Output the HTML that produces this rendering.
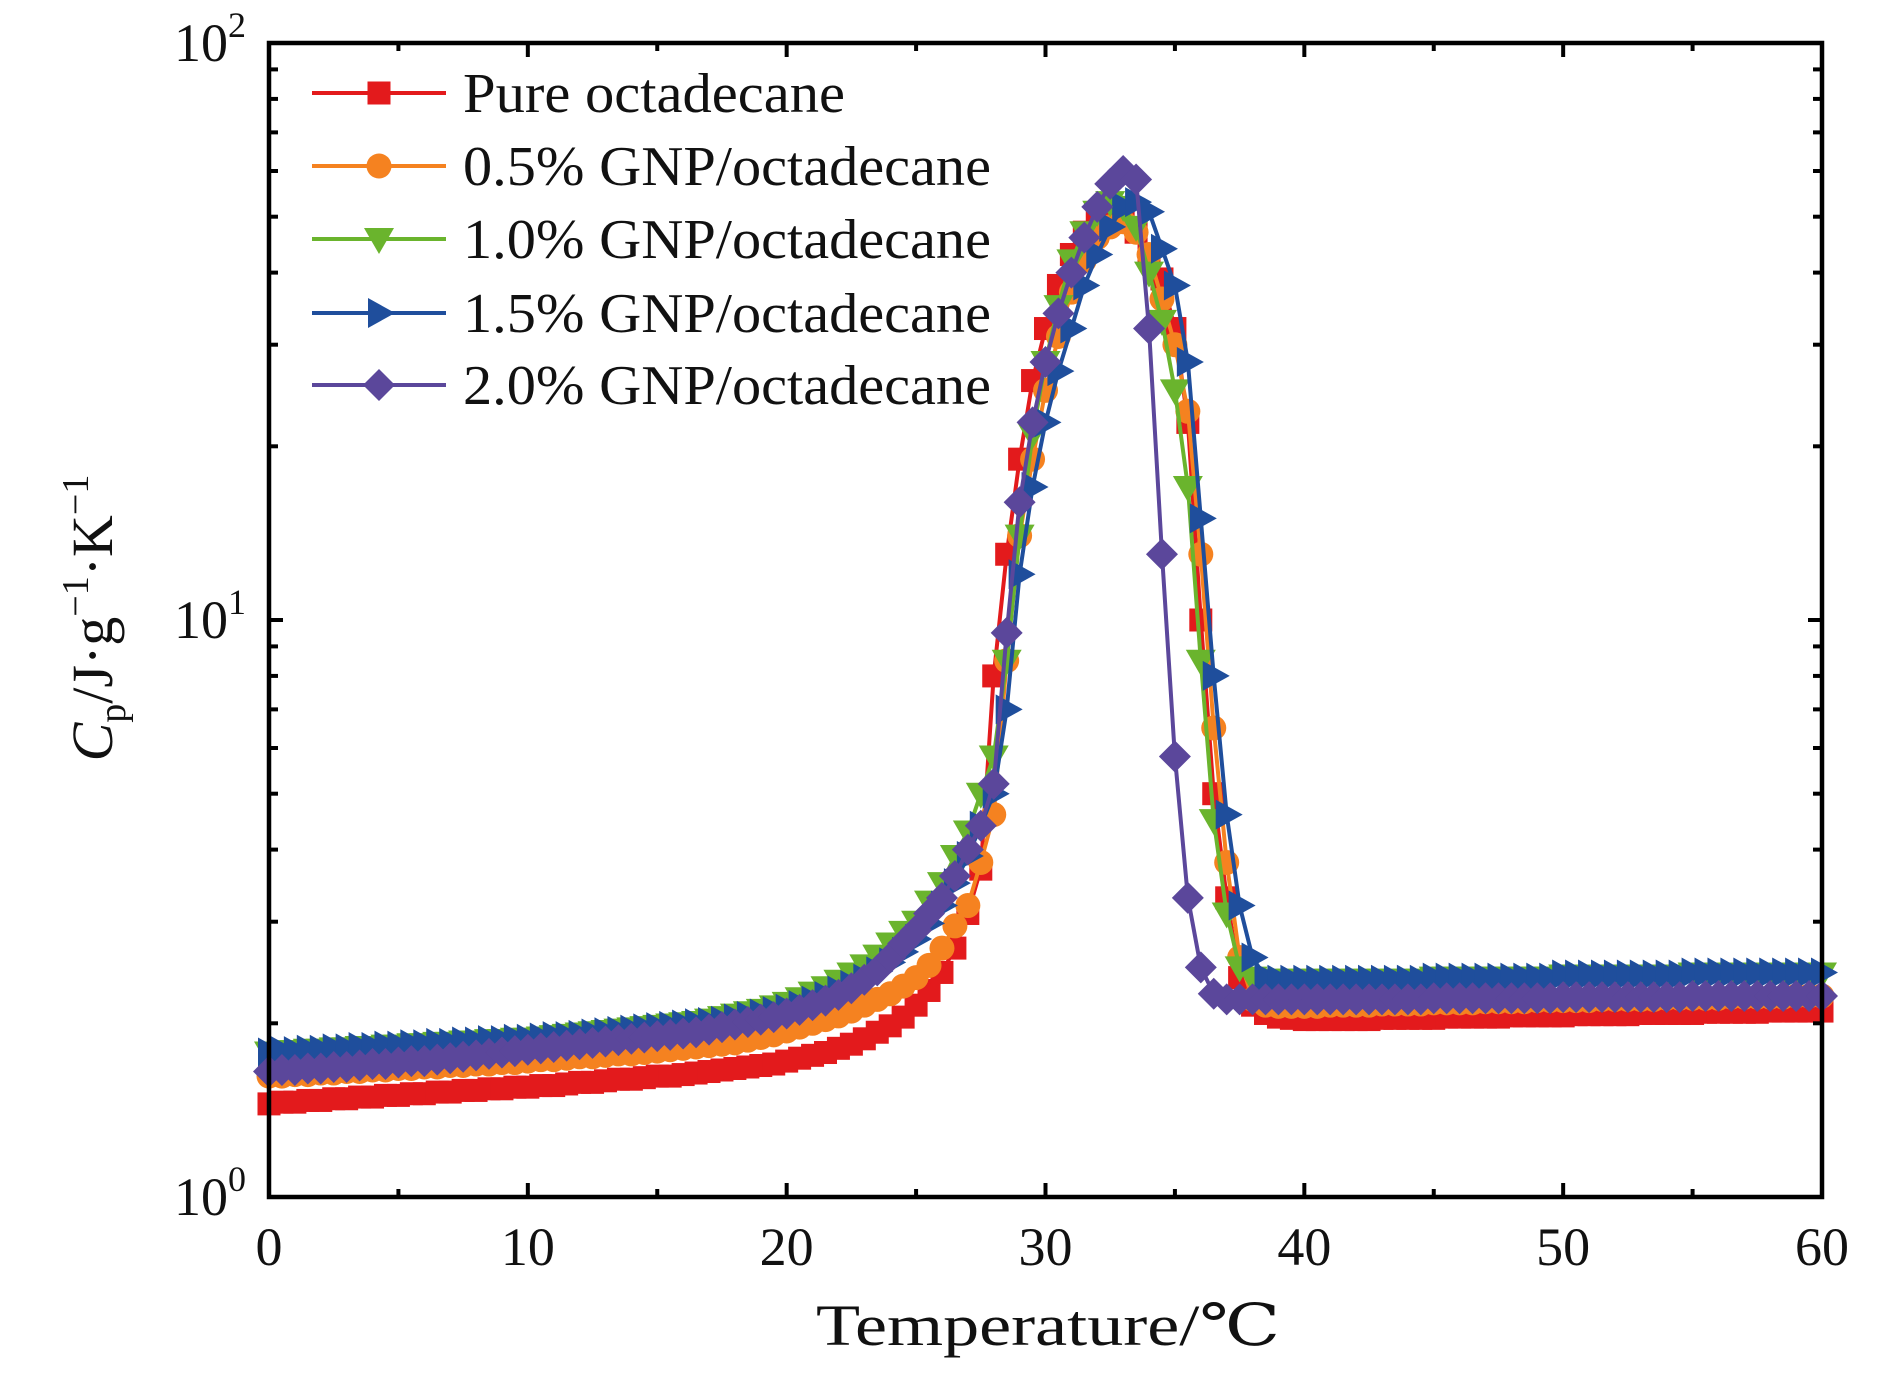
<!DOCTYPE html>
<html><head><meta charset="utf-8">
<style>
html,body{margin:0;padding:0;background:#fff;}
svg text{font-family:"Liberation Serif","DejaVu Serif",serif;fill:#111;}
</style></head>
<body>
<svg id="chart" width="1890" height="1371" viewBox="0 0 1890 1371" xmlns="http://www.w3.org/2000/svg">
<g id="series"></g>
<g id="axes"></g>
<g id="legend"></g>
<text x="1048" y="1345" font-size="58" text-anchor="middle" textLength="464" lengthAdjust="spacingAndGlyphs">Temperature/℃</text>
<g transform="translate(112,618) rotate(-90)">
<text text-anchor="middle" font-size="58"><tspan font-style="italic">C</tspan><tspan font-size="38" dy="13">p</tspan><tspan dy="-13">/J·g</tspan><tspan font-size="38" dy="-24">−1</tspan><tspan dy="24">·K</tspan><tspan font-size="38" dy="-24">−1</tspan></text>
</g>
</svg>
<script>
const temps = [];
for (let i = 0; i <= 120; i++) temps.push(i / 2);
const pure = [1.45,1.46,1.46,1.47,1.47,1.48,1.48,1.49,1.49,1.50,1.50,1.51,1.51,1.52,1.52,1.53,1.53,1.54,1.54,1.55,
1.55,1.56,1.56,1.57,1.58,1.58,1.59,1.60,1.60,1.61,1.62,1.62,1.63,1.64,1.65,1.66,1.67,1.68,1.69,1.70,
1.72,1.74,1.76,1.78,1.81,1.84,1.88,1.93,1.98,2.05,2.15,2.28,2.45,2.7,3.1,3.7,
8.0,13,19,26,32,38,43,47,50,51,50,47,43,39,32,22,10,5.0,3.3,2.4,
2.15,2.08,2.05,2.04,
2.03,2.03,2.03,2.03,2.03,2.03,2.04,2.04,2.04,2.04,2.04,2.05,2.05,2.05,2.05,2.05,2.06,2.06,2.06,2.06,2.06,2.07,2.07,2.07,2.07,2.07,2.08,2.08,2.08,2.08,2.08,2.09,2.09,2.09,2.09,2.09,2.10,2.10,2.10,2.10,2.10];
const gnp05 = [1.62,1.62,1.63,1.63,1.64,1.64,1.65,1.65,1.66,1.66,1.67,1.67,1.68,1.68,1.69,1.69,1.70,1.70,1.71,1.71,
1.72,1.73,1.73,1.74,1.75,1.75,1.76,1.77,1.77,1.78,1.79,1.80,1.81,1.82,1.83,1.84,1.85,1.87,1.89,1.91,
1.94,1.97,2.0,2.03,2.06,2.10,2.15,2.20,2.25,2.32,2.40,2.52,2.70,2.95,3.2,3.8,
4.6,8.5,14,19,25,31,37,42,46,48,49,47,43,36,30,23,13,6.5,3.8,2.6,
2.2,2.15,2.14,2.14,
2.14,2.14,2.15,2.15,2.15,2.15,2.16,2.16,2.16,2.16,2.17,2.17,2.17,2.17,2.18,2.18,2.18,2.18,2.19,2.19,2.19,2.19,2.19,2.20,2.20,2.20,2.20,2.20,2.21,2.21,2.21,2.21,2.21,2.22,2.22,2.22,2.22,2.22,2.23,2.23,2.23];
const gnp10 = [1.78,1.79,1.79,1.80,1.80,1.81,1.81,1.82,1.82,1.83,1.83,1.84,1.84,1.85,1.85,1.86,1.86,1.87,1.87,1.88,
1.88,1.89,1.90,1.91,1.92,1.93,1.94,1.95,1.96,1.97,1.98,1.99,2.00,2.01,2.03,2.05,2.07,2.09,2.11,2.14,
2.17,2.21,2.26,2.31,2.37,2.44,2.52,2.62,2.75,2.88,3.0,3.25,3.5,3.9,4.3,5.0,
5.8,8.5,14,21,28,35,42,47,51,53,52,48,40,33,25,17,8.5,4.5,3.1,2.5,
2.4,2.38,2.38,2.38,
2.38,2.38,2.38,2.38,2.38,2.38,2.38,2.38,2.38,2.38,2.40,2.40,2.40,2.40,2.40,2.40,2.40,2.40,2.40,2.40,2.42,2.42,2.42,2.42,2.42,2.42,2.42,2.42,2.42,2.42,2.44,2.44,2.44,2.44,2.44,2.44,2.44,2.44,2.44,2.44,2.44];
const gnp15 = [1.78,1.79,1.79,1.80,1.80,1.81,1.81,1.82,1.82,1.83,1.83,1.84,1.84,1.85,1.85,1.86,1.86,1.87,1.87,1.88,
1.88,1.89,1.90,1.90,1.91,1.92,1.93,1.94,1.95,1.96,1.97,1.98,1.99,2.00,2.01,2.02,2.04,2.06,2.08,2.10,
2.12,2.15,2.19,2.23,2.28,2.33,2.39,2.46,2.55,2.66,2.8,2.98,3.2,3.5,3.9,4.4,
5.0,7,12,17,22,27,32,38,43,48,52,53,51,44,38,28,15,8,4.6,3.2,
2.6,2.4,2.38,2.38,
2.38,2.38,2.38,2.38,2.38,2.38,2.38,2.38,2.38,2.38,2.40,2.40,2.40,2.40,2.40,2.40,2.40,2.40,2.40,2.40,2.43,2.43,2.43,2.43,2.43,2.43,2.43,2.43,2.43,2.43,2.45,2.45,2.45,2.45,2.45,2.45,2.45,2.45,2.45,2.45,2.45];
const gnp20 = [1.65,1.66,1.66,1.67,1.67,1.68,1.68,1.69,1.70,1.70,1.71,1.72,1.72,1.73,1.74,1.75,1.76,1.77,1.78,1.79,
1.80,1.81,1.82,1.83,1.84,1.85,1.86,1.87,1.88,1.89,1.90,1.91,1.92,1.93,1.95,1.97,1.99,2.01,2.03,2.05,
2.08,2.11,2.15,2.19,2.24,2.30,2.38,2.47,2.60,2.75,2.9,3.1,3.3,3.6,4.0,4.4,
5.2,9.5,16,22,28,34,40,46,52,57,60,58,32,13,5.8,3.3,2.5,2.25,2.2,2.2,
2.2,2.2,2.2,2.2,
2.2,2.2,2.2,2.2,2.2,2.2,2.2,2.2,2.2,2.2,2.21,2.21,2.21,2.21,2.21,2.21,2.21,2.21,2.21,2.21,2.22,2.22,2.22,2.22,2.22,2.22,2.22,2.22,2.22,2.22,2.23,2.23,2.23,2.23,2.23,2.23,2.23,2.23,2.23,2.23,2.23];
const seriesNames = ["Pure octadecane","0.5% GNP/octadecane","1.0% GNP/octadecane","1.5% GNP/octadecane","2.0% GNP/octadecane"];
const xTicks = [0,10,20,30,40,50,60];
const yDecades = [0,1,2];

const NS = "http://www.w3.org/2000/svg";
const L = 269, R = 1822, T = 43, B = 1197;
const xs = t => L + (t - 0) / 60 * (R - L);
const ys = v => B - Math.log10(v) / 2 * (B - T);
function mk(tag, attrs, parent) {
  const e = document.createElementNS(NS, tag);
  for (const k in attrs) e.setAttribute(k, attrs[k]);
  parent.appendChild(e);
  return e;
}
const colors = ["#e31a1c","#f58220","#6ab42d","#1f4e9c","#5b479b"];
const shapes = ["square","circle","down","right","diamond"];
const keys = ["pure","gnp05","gnp10","gnp15","gnp20"];
const data = [pure,gnp05,gnp10,gnp15,gnp20];

function marker(shape, x, y, c, parent) {
  let e;
  if (shape === "square") e = mk("rect", {x:x-11.5,y:y-11.5,width:23,height:23,fill:c}, parent);
  else if (shape === "circle") e = mk("circle", {cx:x,cy:y,r:12.5,fill:c}, parent);
  else if (shape === "down") e = mk("polygon", {points:`${x-15},${y-11} ${x+15},${y-11} ${x},${y+15}`,fill:c}, parent);
  else if (shape === "right") e = mk("polygon", {points:`${x-11},${y-15} ${x-11},${y+15} ${x+16},${y}`,fill:c}, parent);
  else e = mk("polygon", {points:`${x},${y-16} ${x+16},${y} ${x},${y+16} ${x-16},${y}`,fill:c}, parent);
  return e;
}

const sg = document.getElementById("series");
data.forEach((vals, si) => {
  const g = mk("g", {}, sg);
  
  
  const pts = vals.map((v, i) => xs(temps[i]).toFixed(1) + "," + ys(v).toFixed(1)).join(" ");
  const line = mk("polyline", {points:pts, fill:"none", stroke:colors[si], "stroke-width":4, "stroke-linejoin":"round"}, g);
  
  
  vals.forEach((v, i) => {
    const m = marker(shapes[si], xs(temps[i]), ys(v), colors[si], g);
    
    
  });
});

const ag = document.getElementById("axes");
const frame = mk("rect", {x:L, y:T, width:R-L, height:B-T, fill:"none", stroke:"#000", "stroke-width":4.5}, ag);


for (let t = 0; t <= 60; t += 5) {
  const major = t % 10 === 0;
  const len = major ? 14 : 8;
  const x = xs(t);
  const a = mk("line", {x1:x, y1:B, x2:x, y2:B-len, stroke:"#000", "stroke-width":4}, ag);
  
  
  const b = mk("line", {x1:x, y1:T, x2:x, y2:T+len, stroke:"#000", "stroke-width":4}, ag);
  
  
}
xTicks.forEach(t => {
  const tx = mk("text", {x:xs(t), y:1265, "font-size":54, "text-anchor":"middle"}, ag);
  tx.textContent = String(t);
  
  
});
for (let d = 0; d < 2; d++) {
  for (let m = 1; m <= 10; m++) {
    const v = m * Math.pow(10, d);
    if (m === 1 && d > 0) continue;
    const major = (m === 1 || m === 10);
    const len = major ? 14 : 9;
    const y = ys(v);
    const a = mk("line", {x1:L, y1:y, x2:L+len, y2:y, stroke:"#000", "stroke-width":4}, ag);
    
    
    const b = mk("line", {x1:R, y1:y, x2:R-len, y2:y, stroke:"#000", "stroke-width":4}, ag);
    
    
  }
}
yDecades.forEach(d => {
  const y = ys(Math.pow(10, d));
  const tx = mk("text", {x:246, y:y+18, "font-size":54, "text-anchor":"end"}, ag);
  
  
  const t1 = mk("tspan", {}, tx); t1.textContent = "10";
  const t2 = mk("tspan", {"font-size":36, dy:-24}, tx); t2.textContent = String(d);
});

const lg = document.getElementById("legend");
const rowsY = [93,166,239,313,385];
const textLens = [382,528,528,528,528];
seriesNames.forEach((n, i) => {
  const g = mk("g", {}, lg);
  
  
  mk("line", {x1:312, y1:rowsY[i], x2:446, y2:rowsY[i], stroke:colors[i], "stroke-width":4}, g);
  marker(shapes[i], 379, rowsY[i], colors[i], g);
  const tx = mk("text", {x:463, y:rowsY[i]+19, "font-size":56, textLength:textLens[i], lengthAdjust:"spacingAndGlyphs"}, g);
  tx.textContent = n;
});
</script>
</body></html>
